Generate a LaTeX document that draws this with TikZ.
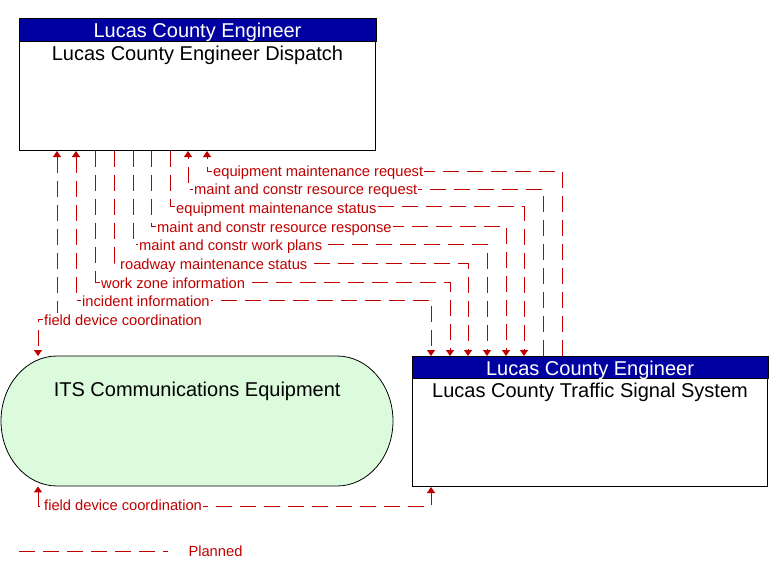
\documentclass[tikz,border=0pt]{standalone}
\usepackage{fontspec}
\setmainfont{Liberation Sans}
\usetikzlibrary{arrows.meta,calc}
\definecolor{flowred}{RGB}{192,0,0}
\definecolor{hdrblue}{RGB}{0,0,160}
\definecolor{itsgreen}{RGB}{220,250,220}
\newcommand\mylblfont{\fontsize{14.7bp}{17bp}\selectfont}
\newcommand\mytitlefont{\fontsize{20bp}{24bp}\selectfont}
\tikzset{
  >={Triangle[length=6bp,width=8bp]},
  flow/.style={draw=flowred, line width=1bp, dash pattern=on 16bp off 8bp},
  lbl/.style={anchor=base west, inner sep=1bp, fill=white, text=flowred, font=\mylblfont},
  box/.style={draw=black, line width=1bp, fill=white, inner sep=0pt, anchor=north west},
  hdr/.style={fill=hdrblue, draw=black, line width=1bp},
  hdrtext/.style={anchor=base, text=white, font=\mytitlefont, inner sep=0pt},
  bodytext/.style={anchor=base, text=black, font=\mytitlefont, inner sep=0pt},
}
\begin{document}
\begin{tikzpicture}[x=1bp,y=-1bp]
\useasboundingbox (0,0) rectangle (783,580);

% boxes
\node[box, minimum width=356bp, minimum height=131bp] (dispatch) at (19,19) {};
\path[hdr] (dispatch.north west) rectangle ($(dispatch.north east)+(0,23)$);
\node[hdrtext] (dispatchhdr) at ($(dispatch.north)+(0,18.7)$) {Lucas County Engineer};
\node[bodytext] (dispatchname) at ($(dispatch.north)+(0,42)$) {Lucas County Engineer Dispatch};

\node[box, minimum width=355bp, minimum height=130bp] (tss) at (412,356) {};
\path[hdr] (tss.north west) rectangle ($(tss.north east)+(0,22)$);
\node[hdrtext] (tsshdr) at ($(tss.north)+(0,19)$) {Lucas County Engineer};
\node[bodytext] (tssname) at ($(tss.north)+(0,41.3)$) {Lucas County Traffic Signal System};

\node[minimum width=392bp, minimum height=130bp, inner sep=0pt, anchor=north west] (its) at (1,356) {};
\draw[fill=itsgreen, draw=black, line width=0.8bp]
  (57,356) -- (337,356) arc[start angle=-90, end angle=90, x radius=56, y radius=65]
  -- (57,486) arc[start angle=90, end angle=270, x radius=56, y radius=65] -- cycle;
\node[bodytext] (itsname) at ($(its.north)+(0,40.7)$) {ITS Communications Equipment};

% flows
\draw[flow,->] ($(tss.north west)+(150,0)$) |- ($(dispatch.south west)+(188,20)$) -- ($(dispatch.south west)+(188,0)$);
\draw[flow,->] ($(tss.north west)+(131,0)$) |- ($(dispatch.south west)+(169,38)$) -- ($(dispatch.south west)+(169,0)$);
\draw[flow,->] ($(dispatch.south west)+(151,0)$) |- ($(tss.north west)+(112,-149)$) -- ($(tss.north west)+(112,0)$);
\draw[flow,->] ($(dispatch.south west)+(132,0)$) |- ($(tss.north west)+(94,-130)$) -- ($(tss.north west)+(94,0)$);
\draw[flow,->] ($(dispatch.south west)+(114,0)$) |- ($(tss.north west)+(75,-112)$) -- ($(tss.north west)+(75,0)$);
\draw[flow,->] ($(dispatch.south west)+(95,0)$) |- ($(tss.north west)+(56,-93)$) -- ($(tss.north west)+(56,0)$);
\draw[flow,->] ($(dispatch.south west)+(76,0)$) |- ($(tss.north west)+(38,-74)$) -- ($(tss.north west)+(38,0)$);
\draw[flow,<->] ($(dispatch.south west)+(57,0)$) |- ($(tss.north west)+(19,-56)$) -- ($(tss.north west)+(19,0)$);
\draw[flow,<->] ($(dispatch.south west)+(38,0)$) |- ($(its.north west)+(37,-37)$) -- ($(its.north west)+(37,0)$);
\draw[flow,<->] ($(its.south west)+(37,0)$) |- ($(tss.south west)+(19,19)$) -- ($(tss.south west)+(19,0)$);

% labels
\node[lbl] (l1) at ($(dispatch.south west)+(193,25)$) {equipment maintenance request};
\node[lbl] (l2) at ($(dispatch.south west)+(174,43)$) {maint and constr resource request};
\node[lbl] (l3) at ($(dispatch.south west)+(156,62)$) {equipment maintenance status};
\node[lbl] (l4) at ($(dispatch.south west)+(137,81)$) {maint and constr resource response};
\node[lbl] (l5) at ($(dispatch.south west)+(119,99)$) {maint and constr work plans};
\node[lbl] (l6) at ($(dispatch.south west)+(100,118)$) {roadway maintenance status};
\node[lbl] (l7) at ($(dispatch.south west)+(81,137)$) {work zone information};
\node[lbl] (l8) at ($(dispatch.south west)+(62,155)$) {incident information};
\node[lbl] (l9) at ($(dispatch.south west)+(24,174)$) {field device coordination};
\node[lbl] (l10) at ($(its.south west)+(42,24)$) {field device coordination};

% legend
\coordinate (lgA) at (19,551);
\coordinate (lgB) at (168,551);
\draw[flow] (lgA) -- (lgB);
\node[lbl] (lgtext) at (187.3,556.7) {Planned};
\end{tikzpicture}
\end{document}
